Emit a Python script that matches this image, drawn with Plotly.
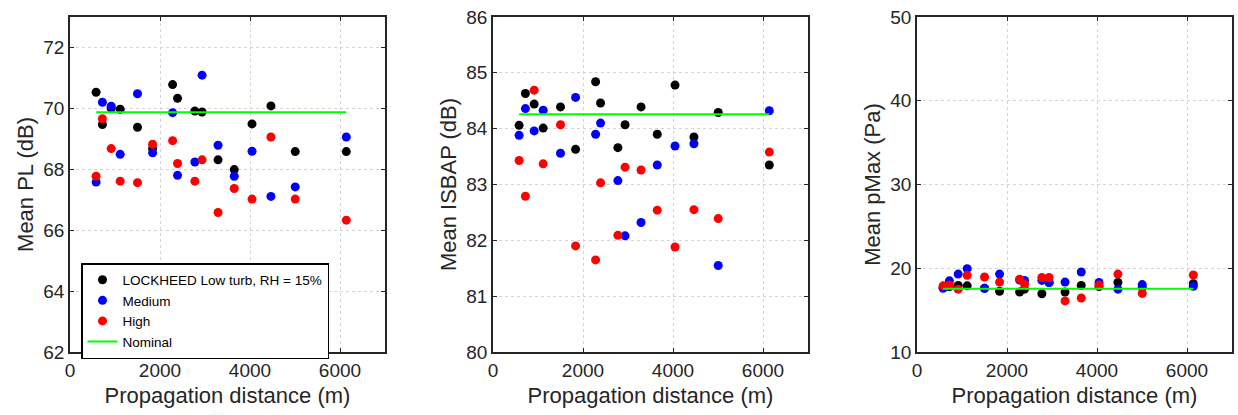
import plotly.graph_objects as go
from plotly.subplots import make_subplots

# Propagation distances (m) shared by every panel
distance = [580, 720, 915, 1115, 1500, 1835, 2280, 2390, 2775, 2935,
            3290, 3650, 4045, 4465, 5005, 6140]

# Mean PL (dB)
pl_low = [70.53, 69.47, 70.00, 69.97, 69.38, 68.68, 70.78, 70.33, 69.91, 69.88,
          68.31, 67.99, 69.49, 70.08, 68.58, 68.58]
pl_medium = [67.58, 70.20, 70.07, 68.49, 70.48, 68.54, 69.86, 67.80, 68.24, 71.09,
             68.79, 67.77, 68.59, 67.11, 67.42, 69.06]
pl_high = [67.77, 69.66, 68.68, 67.61, 67.56, 68.82, 68.94, 68.19, 67.61, 68.31,
           66.58, 67.37, 67.02, 69.06, 67.02, 66.33]
pl_nominal = 69.87

# Mean ISBAP (dB)
isbap_low = [84.06, 84.63, 84.44, 84.01, 84.39, 83.63, 84.84, 84.46, 83.66, 84.07,
             84.39, 83.90, 84.78, 83.85, 84.29, 83.35]
isbap_medium = [83.88, 84.36, 83.96, 84.33, 83.56, 84.56, 83.90, 84.10, 83.07, 82.08,
                82.32, 83.35, 83.69, 83.73, 81.55, 84.32]
isbap_high = [83.43, 82.79, 84.69, 83.37, 84.07, 81.90, 81.65, 83.03, 82.09, 83.31,
              83.26, 82.54, 81.88, 82.55, 82.39, 83.58]
isbap_nominal = 84.26

# Mean pMax (Pa)
pmax_low = [17.70, 17.80, 17.95, 17.90, 17.60, 17.25, 17.15, 17.50, 16.95, 18.30,
            17.15, 17.95, 17.80, 18.30, 17.70, 18.15]
pmax_medium = [17.60, 18.50, 19.30, 19.95, 17.60, 19.30, 18.60, 18.55, 18.55, 18.30,
               18.35, 19.55, 18.30, 17.50, 18.05, 17.85]
pmax_high = [17.90, 18.00, 17.50, 19.15, 18.95, 18.35, 18.70, 18.10, 18.90, 18.90,
             16.10, 16.45, 18.00, 19.30, 17.00, 19.20]
pmax_nominal = 17.55

series_names = ["LOCKHEED Low turb, RH = 15%", "Medium", "High"]
series_colors = ["#000000", "#0000FF", "#FF0000"]

panels = [
    dict(low=pl_low, medium=pl_medium, high=pl_high, nominal=pl_nominal,
         title="Mean PL (dB)", yrange=[62, 73], ytick=[62, 64, 66, 68, 70, 72]),
    dict(low=isbap_low, medium=isbap_medium, high=isbap_high, nominal=isbap_nominal,
         title="Mean ISBAP (dB)", yrange=[80, 86], ytick=[80, 81, 82, 83, 84, 85, 86]),
    dict(low=pmax_low, medium=pmax_medium, high=pmax_high, nominal=pmax_nominal,
         title="Mean pMax (Pa)", yrange=[10, 50], ytick=[10, 20, 30, 40, 50]),
]

W, H = 1238, 415
left_px = [70, 493, 917]
plot_w = 315
top_px, bottom_px = 17, 352

fig = make_subplots(rows=1, cols=3)

text_color = "#262626"
font_family = "Liberation Sans, Arial, sans-serif"

for i, p in enumerate(panels):
    col = i + 1
    first = i == 0
    for rank, (vals, name, color) in enumerate(
            zip([p["low"], p["medium"], p["high"]], series_names, series_colors)):
        fig.add_trace(go.Scatter(
            x=distance, y=vals, mode="markers", name=name,
            marker=dict(color=color, size=9, line=dict(width=0)),
            showlegend=first, legendrank=rank + 1,
        ), row=1, col=col)
    fig.add_trace(go.Scatter(
        x=[distance[0], distance[-1]], y=[p["nominal"], p["nominal"]],
        mode="lines", name="Nominal", line=dict(color="#00FF00", width=2),
        showlegend=first, legendrank=4,
    ), row=1, col=col)

    x0 = left_px[i] / W
    x1 = (left_px[i] + plot_w) / W
    axis_common = dict(
        showline=True, linecolor=text_color, linewidth=1.6, mirror="ticks",
        ticks="inside", ticklen=4, tickwidth=1.2, tickcolor=text_color,
        showgrid=True, gridcolor="#d4d4d4", griddash="dot", gridwidth=1,
        zeroline=False, automargin=False,
        tickfont=dict(size=19, color=text_color, family=font_family),
    )
    fig.update_xaxes(
        domain=[x0, x1], range=[0, 7000], tickvals=[0, 2000, 4000, 6000],
        title=dict(text="Propagation distance (m)", standoff=8,
                   font=dict(size=22, color=text_color, family=font_family)),
        **axis_common, row=1, col=col)
    fig.update_yaxes(
        domain=[1 - bottom_px / H, 1 - top_px / H], range=p["yrange"], tickvals=p["ytick"],
        title=dict(text=p["title"], standoff=4,
                   font=dict(size=22, color=text_color, family=font_family)),
        **axis_common, row=1, col=col)

fig.update_layout(
    width=W, height=H,
    margin=dict(l=0, r=0, t=0, b=0),
    paper_bgcolor="white", plot_bgcolor="white",
    font=dict(family=font_family, color=text_color),
    legend=dict(
        x=81 / W, y=1 - 263 / H, xanchor="left", yanchor="top",
        bgcolor="white", bordercolor="#000000", borderwidth=1.5,
        font=dict(size=13.5, color="#000000", family=font_family),
        tracegroupgap=0, itemwidth=30,
    ),
)

fig.write_html("out.html")
